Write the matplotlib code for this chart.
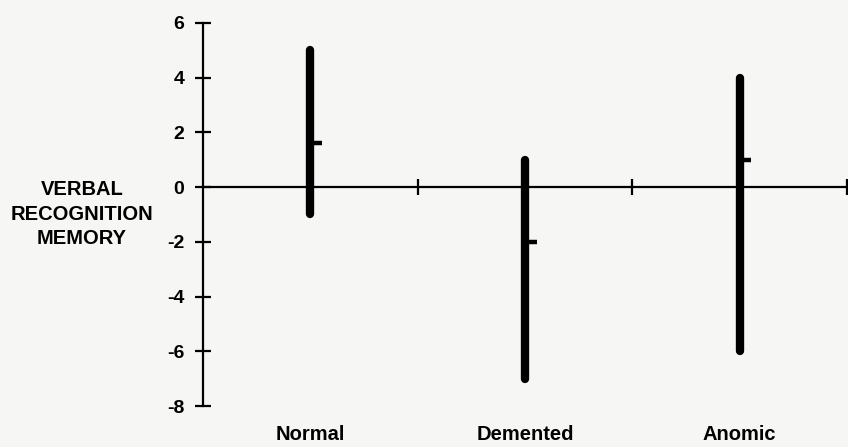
import matplotlib
matplotlib.use("Agg")
import matplotlib.pyplot as plt
import matplotlib.transforms as mtransforms

categories = ["Normal", "Demented", "Anomic"]
range_low = [-1, -7, -6]
range_high = [5, 1, 4]
means = [1.6, -2, 1]
yticks = [6, 4, 2, 0, -2, -4, -6, -8]

plt.rcParams['font.family'] = ['Liberation Sans', 'DejaVu Sans']
plt.rcParams['font.weight'] = 'bold'

bg = '#f6f6f4'
fig = plt.figure(figsize=(8.48, 4.47), dpi=100, facecolor=bg)
ax = fig.add_axes([0.2394, 0.0917, 0.7594, 0.8573], facecolor=bg)

xs = [i + 0.5 for i in range(len(categories))]
ax.vlines(xs, range_low, range_high, colors='black', linewidth=6,
          capstyle='round')
for x, m in zip(xs, means):
    ax.hlines(m, x, x + 0.055, colors='black', linewidth=3.2)

ax.set_xlim(0, 3)
ax.set_ylim(-8, 6)
ax.spines['top'].set_visible(False)
ax.spines['right'].set_visible(False)
ax.spines['bottom'].set_position(('data', 0))
ax.spines['left'].set_linewidth(1.6)
ax.spines['bottom'].set_linewidth(1.6)

ax.set_yticks(yticks)
ax.set_yticklabels([str(t) for t in yticks], fontsize=14, fontweight='bold')
ax.tick_params(axis='y', direction='inout', length=11, width=1.6, pad=8)
ax.set_xticks([1, 2, 3])
ax.set_xticklabels([])
ax.tick_params(axis='x', direction='inout', length=11, width=1.6)

trans = mtransforms.blended_transform_factory(ax.transData, ax.transAxes)
for x, c in zip(xs, categories):
    ax.text(x, -0.075, c, transform=trans, ha='center', va='center',
            fontsize=14.5, fontweight='bold')

fig.text(0.0967, 0.521, "VERBAL\nRECOGNITION\nMEMORY", ha='center', va='center',
         multialignment='center', fontsize=14.5, fontweight='bold', linespacing=1.35)

fig.savefig("out.png", dpi=100, facecolor=bg)
